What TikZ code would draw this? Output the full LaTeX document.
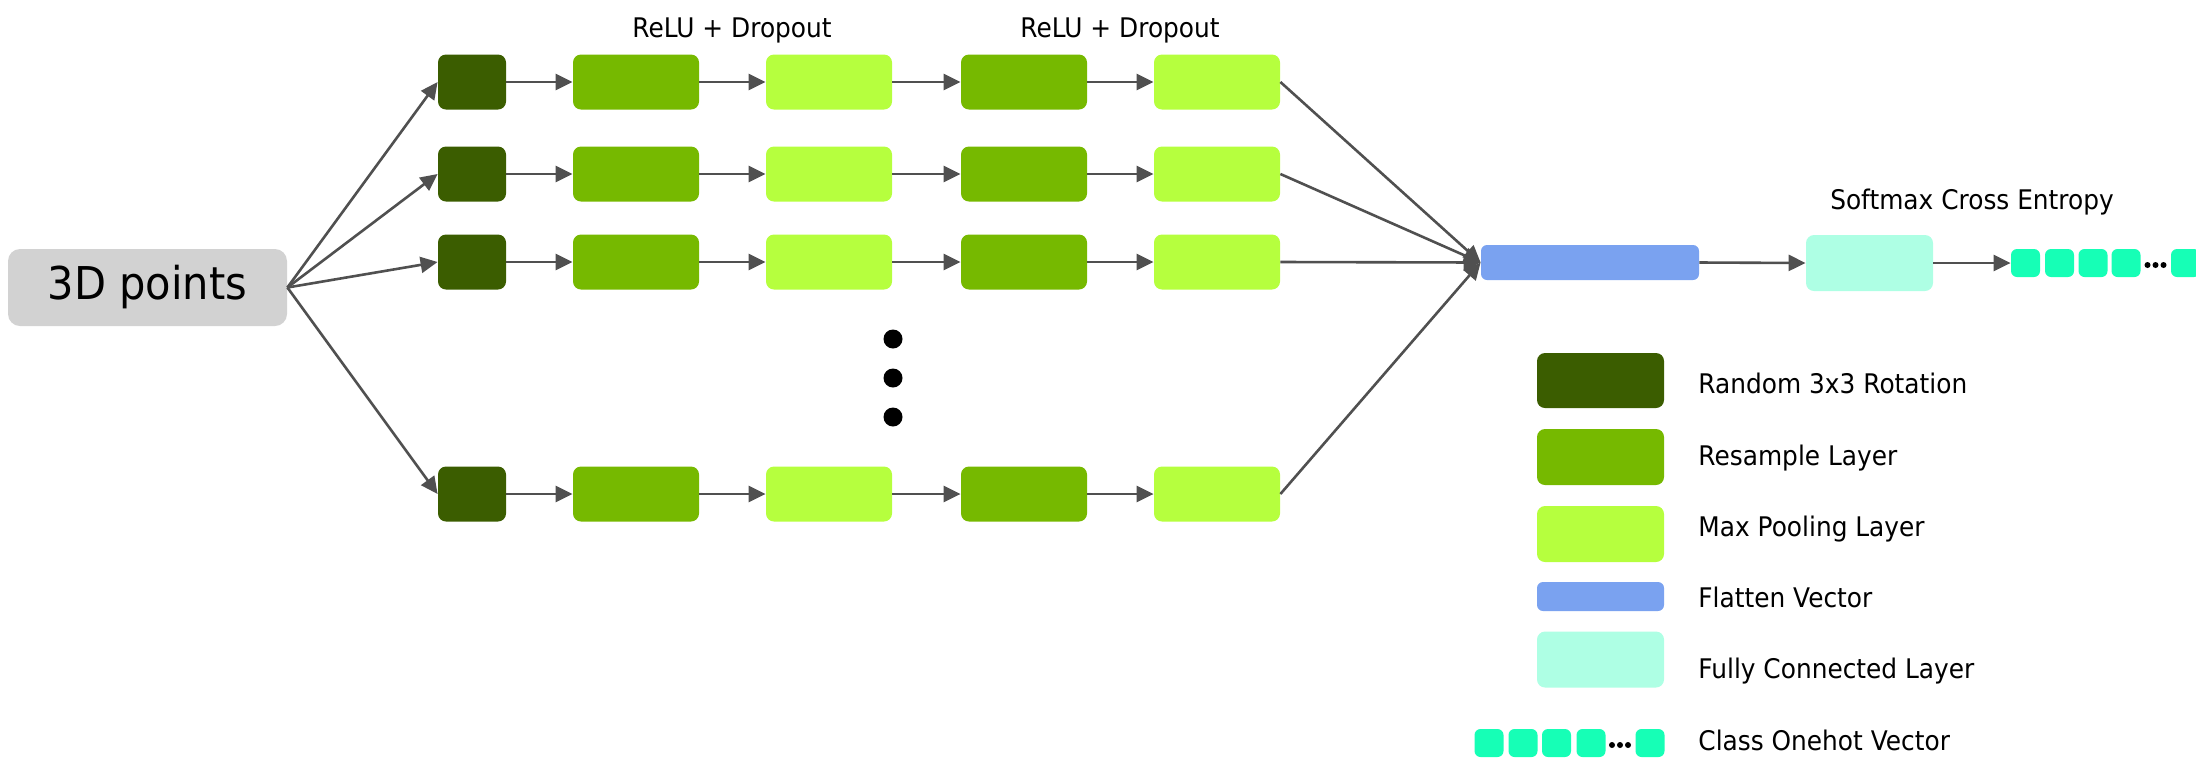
\documentclass[tikz,border=0pt]{standalone}
\usepackage{fontspec}
\setmainfont{DejaVu Sans}[FakeStretch=0.92]
\usetikzlibrary{arrows.meta}

\definecolor{ptsgray}{HTML}{D2D2D2}
\definecolor{rotgreen}{HTML}{3B5D00}
\definecolor{resgreen}{HTML}{76B900}
\definecolor{poolgreen}{HTML}{B6FF3E}
\definecolor{flatblue}{HTML}{7AA2F0}
\definecolor{fcaqua}{HTML}{AEFFE4}
\definecolor{ohgreen}{HTML}{16FFB6}
\definecolor{arrowgray}{HTML}{505050}

\begin{document}
\begin{tikzpicture}[x=0.5pt,y=-0.5pt,
  blk/.style={rectangle, rounded corners=4pt, inner sep=0pt, draw=none},
  rotbox/.style={blk, fill=rotgreen, minimum width=34pt, minimum height=27.5pt},
  resbox/.style={blk, fill=resgreen, minimum width=63pt, minimum height=27.5pt},
  poolbox/.style={blk, fill=poolgreen, minimum width=63pt, minimum height=27.5pt},
  flatbox/.style={blk, fill=flatblue, rounded corners=3pt},
  fcbox/.style={blk, fill=fcaqua, minimum width=63.5pt, minimum height=28pt},
  ohbox/.style={blk, rounded corners=3pt, fill=ohgreen, minimum width=14.5pt, minimum height=14pt},
  dot/.style={circle, fill=black, inner sep=0pt, minimum size=#1},
  arr/.style={draw=arrowgray, line width=1.3pt, -{Triangle[length=8.5pt,width=8pt]}},
  lbl/.style={font=\fontsize{13.5}{16}\selectfont, inner sep=0pt, anchor=base},
  leg/.style={lbl, anchor=base west},
]
\useasboundingbox (0,0) rectangle (2196,757);

% input
\node[blk, fill=ptsgray, rounded corners=6pt, minimum width=139.5pt, minimum height=38.5pt,
      font=\fontsize{22.6}{27}\selectfont] (in) at (147.5,287.5) {3D points};

% parallel branches
\foreach \r/\y in {1/82,2/174,3/262,4/494} {
  \node[rotbox]  (r\r-1) at (472,\y)  {};
  \node[resbox]  (r\r-2) at (636,\y)  {};
  \node[poolbox] (r\r-3) at (829,\y)  {};
  \node[resbox]  (r\r-4) at (1024,\y) {};
  \node[poolbox] (r\r-5) at (1217,\y) {};
}

% flatten, fully connected, one-hot output
\node[flatbox, minimum width=109pt, minimum height=17.5pt] (flat) at (1590,262.5) {};
\node[fcbox] (fc) at (1869.5,263) {};
\node[ohbox] (oh1) at (2025.5,263) {};
\node[ohbox] (oh2) at (2059.5,263) {};
\node[ohbox] (oh3) at (2093,263) {};
\node[ohbox] (oh4) at (2126,263) {};
\node[ohbox] (oh5) at (2185.5,263) {};
\node[dot=3pt] (ohd1) at (2147.5,265) {};
\node[dot=3pt] (ohd2) at (2155.5,265) {};
\node[dot=3pt] (ohd3) at (2163.5,265) {};

% vertical ellipsis between branches
\node[dot=9.5pt] (vd1) at (893,339) {};
\node[dot=9.5pt] (vd2) at (893,378) {};
\node[dot=9.5pt] (vd3) at (893,417) {};

% labels
\node[lbl] (relu1) at (732,37) {ReLU + Dropout};
\node[lbl] (relu2) at (1120,37) {ReLU + Dropout};
\node[lbl] (soft) at (1972,209) {Softmax Cross Entropy};

% connectors
\foreach \r in {1,2,3,4} {
  \draw[arr] (in.east) -- (r\r-1.west);
  \draw[arr] (r\r-1.east) -- (r\r-2.west);
  \draw[arr] (r\r-2.east) -- (r\r-3.west);
  \draw[arr] (r\r-3.east) -- (r\r-4.west);
  \draw[arr] (r\r-4.east) -- (r\r-5.west);
  \draw[arr] (r\r-5.east) -- (flat.west);
}
\draw[arr] (flat.east) -- (fc.west);
\draw[arr] (fc.east) -- (oh1.west);

% legend
\node[rotbox, minimum width=63.5pt]  (k1) at (1600.5,380.5) {};
\node[resbox, minimum width=63.5pt, minimum height=28pt]  (k2) at (1600.5,457) {};
\node[poolbox, minimum width=63.5pt, minimum height=28pt] (k3) at (1600.5,534) {};
\node[flatbox, minimum width=63.5pt, minimum height=14.5pt] (k4) at (1600.5,596.5) {};
\node[fcbox] (k5) at (1600.5,659.5) {};
\node[ohbox] (k6a) at (1489,743) {};
\node[ohbox] (k6b) at (1523,743) {};
\node[ohbox] (k6c) at (1556.5,743) {};
\node[ohbox] (k6d) at (1591,743) {};
\node[ohbox] (k6e) at (1650,743) {};
\node[dot=3pt] (kd1) at (1612,745) {};
\node[dot=3pt] (kd2) at (1620,745) {};
\node[dot=3pt] (kd3) at (1628,745) {};

\node[leg] (t1) at (1698,393) {Random 3x3 Rotation};
\node[leg] (t2) at (1698,465) {Resample Layer};
\node[leg] (t3) at (1698,536) {Max Pooling Layer};
\node[leg] (t4) at (1698,607) {Flatten Vector};
\node[leg] (t5) at (1698,678) {Fully Connected Layer};
\node[leg] (t6) at (1698,750) {Class Onehot Vector};
\end{tikzpicture}
\end{document}
